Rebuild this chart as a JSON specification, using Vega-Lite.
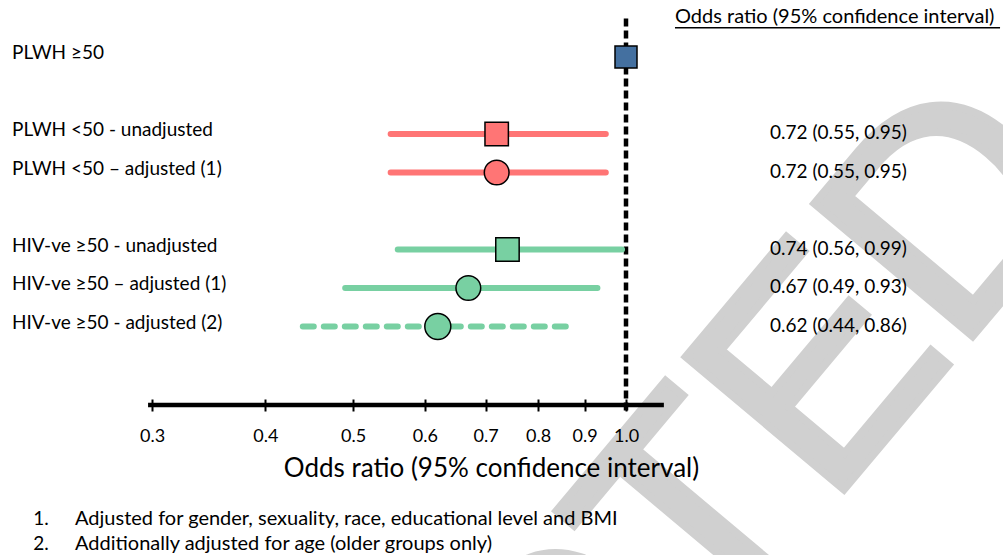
{
  "$schema": "https://vega.github.io/schema/vega-lite/v6.json",
  "width": 1003,
  "height": 555,
  "autosize": "none",
  "padding": 0,
  "background": "white",
  "config": {"view": {"stroke": null}, "font": "Lato"},
  "datasets": {
    "rows": [
      {"label": "PLWH ≥50", "group": "PLWH ≥50", "model": "reference", "row": 1, "or": 1.0, "lo": null, "hi": null, "ci": ""},
      {"label": "PLWH <50 - unadjusted", "group": "PLWH <50", "model": "unadjusted", "row": 3, "or": 0.72, "lo": 0.55, "hi": 0.95, "ci": "0.72 (0.55, 0.95)"},
      {"label": "PLWH <50 – adjusted (1)", "group": "PLWH <50", "model": "adjusted (1)", "row": 4, "or": 0.72, "lo": 0.55, "hi": 0.95, "ci": "0.72 (0.55, 0.95)"},
      {"label": "HIV-ve ≥50 - unadjusted", "group": "HIV-ve ≥50", "model": "unadjusted", "row": 6, "or": 0.74, "lo": 0.56, "hi": 0.99, "ci": "0.74 (0.56, 0.99)"},
      {"label": "HIV-ve ≥50 – adjusted (1)", "group": "HIV-ve ≥50", "model": "adjusted (1)", "row": 7, "or": 0.67, "lo": 0.49, "hi": 0.93, "ci": "0.67 (0.49, 0.93)"},
      {"label": "HIV-ve ≥50 - adjusted (2)", "group": "HIV-ve ≥50", "model": "adjusted (2)", "row": 8, "or": 0.62, "lo": 0.44, "hi": 0.86, "ci": "0.62 (0.44, 0.86)"}
    ],
    "notes": [
      {"n": "1.", "text": "Adjusted for gender, sexuality, race, educational level and BMI", "row": 13},
      {"n": "2.", "text": "Additionally adjusted for age (older groups only)", "row": 13.65}
    ],
    "one": [{"w": "RETRACTED", "h": "Odds ratio (95% confidence interval)"}]
  },
  "layer": [
    {
      "data": {"name": "one"},
      "mark": {"type": "text", "font": "Liberation Sans", "fontSize": 300, "angle": -50, "align": "right", "baseline": "alphabetic", "color": "#d0d0d0", "stroke": "#d0d0d0", "strokeWidth": 8, "strokeJoin": "miter"},
      "encoding": {
        "x": {"datum": 3.30, "type": "quantitative", "scale": {"type": "log", "domain": [0.2039, 2.6055], "nice": false},
          "axis": {"values": [0.3, 0.4, 0.5, 0.6, 0.7, 0.8, 0.9, 1.0], "format": ".1f", "domain": false, "grid": false, "zindex": 1, "offset": -156, "tickSize": 12, "tickWidth": 2, "tickColor": "black", "labelPadding": 16, "labelFontSize": 18, "labelColor": "black", "labelFont": "Lato", "title": "Odds ratio (95% confidence interval)", "titleFont": "Lato", "titleFontSize": 26, "titleFontWeight": "normal", "titleColor": "black", "titleX": 491, "titleY": 69, "titleBaseline": "middle", "titleAlign": "center", "titleAnchor": null}},
        "y": {"datum": 4.43, "type": "quantitative", "scale": {"domain": [-0.4805, 13.935], "reverse": true, "nice": false, "zero": false}, "axis": null},
        "text": {"field": "w"}
      }
    },
    {
      "data": {"name": "one"},
      "mark": {"type": "rule", "color": "black", "strokeWidth": 4.5, "strokeDash": [8, 4]},
      "encoding": {
        "x": {"datum": 1.0, "type": "quantitative"},
        "y": {"datum": 0, "type": "quantitative"},
        "y2": {"datum": 10.2}
      }
    },
    {
      "data": {"name": "one"},
      "mark": {"type": "rule", "color": "black", "strokeWidth": 4.5},
      "encoding": {
        "x": {"datum": 0.297, "type": "quantitative"},
        "x2": {"datum": 1.101},
        "y": {"datum": 10.04, "type": "quantitative"}
      }
    },
    {
      "data": {"name": "rows"},
      "transform": [{"filter": "datum.lo != null"}],
      "mark": {"type": "rule", "strokeWidth": 6, "strokeCap": "round"},
      "encoding": {
        "x": {"field": "lo", "type": "quantitative"},
        "x2": {"field": "hi"},
        "y": {"field": "row", "type": "quantitative"},
        "color": {"field": "group", "type": "nominal", "scale": {"domain": ["PLWH ≥50", "PLWH <50", "HIV-ve ≥50"], "range": ["#4470A0", "#FF7575", "#78D0A2"]}, "legend": null},
        "strokeDash": {"field": "model", "type": "nominal", "scale": {"domain": ["reference", "unadjusted", "adjusted (1)", "adjusted (2)"], "range": [[1, 0], [1, 0], [1, 0], [11, 10]]}, "legend": null}
      }
    },
    {
      "data": {"name": "rows"},
      "mark": {"type": "point", "filled": true, "opacity": 1, "stroke": "black", "strokeWidth": 1.5},
      "encoding": {
        "x": {"field": "or", "type": "quantitative"},
        "y": {"field": "row", "type": "quantitative"},
        "color": {"field": "group", "type": "nominal", "legend": null},
        "shape": {"field": "model", "type": "nominal", "scale": {"domain": ["reference", "unadjusted", "adjusted (1)", "adjusted (2)"], "range": ["square", "square", "circle", "circle"]}, "legend": null},
        "size": {"field": "model", "type": "nominal", "scale": {"domain": ["reference", "unadjusted", "adjusted (1)", "adjusted (2)"], "range": [484, 676, 625, 625]}, "legend": null}
      }
    },
    {
      "data": {"name": "rows"},
      "mark": {"type": "text", "align": "left", "baseline": "middle", "fontSize": 19, "dy": -4, "color": "black"},
      "encoding": {
        "x": {"datum": 0.2102, "type": "quantitative"},
        "y": {"field": "row", "type": "quantitative"},
        "text": {"field": "label"}
      }
    },
    {
      "data": {"name": "rows"},
      "mark": {"type": "text", "align": "left", "baseline": "middle", "fontSize": 19, "dy": -1, "color": "black"},
      "encoding": {
        "x": {"datum": 1.4417, "type": "quantitative"},
        "y": {"field": "row", "type": "quantitative"},
        "text": {"field": "ci"}
      }
    },
    {
      "data": {"name": "one"},
      "mark": {"type": "text", "align": "left", "baseline": "middle", "fontSize": 20, "color": "black"},
      "encoding": {
        "x": {"datum": 1.1325, "type": "quantitative"},
        "y": {"datum": -0.04, "type": "quantitative"},
        "text": {"field": "h"}
      }
    },
    {
      "data": {"name": "one"},
      "mark": {"type": "rule", "color": "black", "strokeWidth": 1.5},
      "encoding": {
        "x": {"datum": 1.1325, "type": "quantitative"},
        "x2": {"datum": 2.586},
        "y": {"datum": 0.24, "type": "quantitative"}
      }
    },
    {
      "data": {"name": "notes"},
      "mark": {"type": "text", "align": "left", "baseline": "middle", "fontSize": 19, "color": "black"},
      "encoding": {
        "x": {"datum": 0.2218, "type": "quantitative"},
        "y": {"field": "row", "type": "quantitative"},
        "text": {"field": "n"}
      }
    },
    {
      "data": {"name": "notes"},
      "mark": {"type": "text", "align": "left", "baseline": "middle", "fontSize": 20, "color": "black"},
      "encoding": {
        "x": {"datum": 0.2467, "type": "quantitative"},
        "y": {"field": "row", "type": "quantitative"},
        "text": {"field": "text"}
      }
    }
  ]
}
